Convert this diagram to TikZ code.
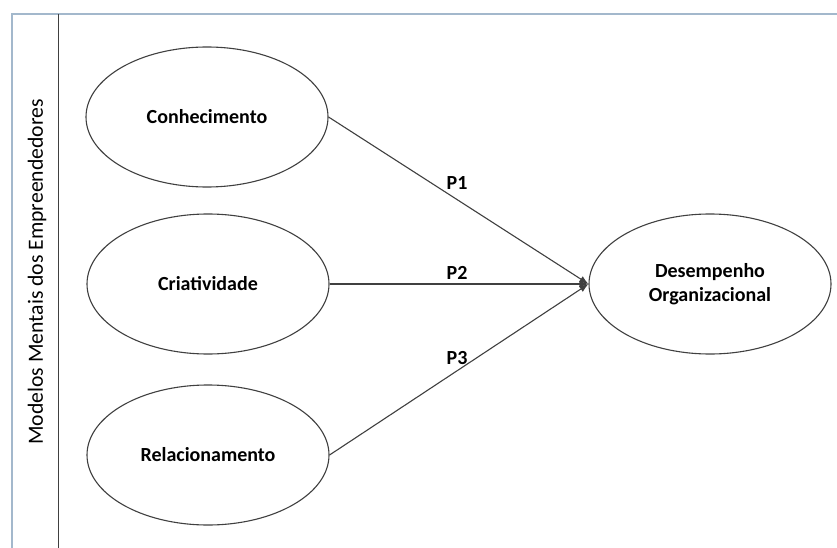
\documentclass[tikz,border=0pt]{standalone}
\usepackage{fontspec}
\setmainfont{Carlito}
\usetikzlibrary{shapes.geometric,arrows.meta}
\definecolor{framecol}{HTML}{A3B8CC}
\definecolor{linecol}{HTML}{404040}
\tikzset{
  construct/.style={ellipse, draw=linecol, line width=1.1pt, minimum width=242pt, minimum height=140pt, inner sep=0pt, font=\fontsize{20}{24}\selectfont\bfseries, align=center},
  path/.style={draw=linecol, line width=1.1pt, -{Latex[length=9pt,width=7pt]}},
  plabel/.style={font=\fontsize{20}{24}\selectfont\bfseries, inner sep=0pt}
}
\begin{document}
\begin{tikzpicture}[x=1pt,y=-1pt]
\useasboundingbox (0,0) rectangle (837,548);
\fill[white] (0,0) rectangle (837,548);
% frame
\draw[framecol, line width=2pt] (11.5,548) -- (11.5,14) -- (837,14);
\draw[linecol, line width=1.6pt] (58.5,14) -- (58.5,548);
\node[rotate=90, font=\fontsize{21.7}{24}\selectfont, inner sep=0pt] (title) at (37,272) {Modelos Mentais dos Empreendedores};
% constructs
\node[construct] (con) at (207,117) {Conhecimento};
\node[construct] (cri) at (208,284) {Criatividade};
\node[construct] (rel) at (208,455) {Relacionamento};
\node[construct] (des) at (710,284) {Desempenho\\Organizacional};
% paths
\draw[path] (con.east) -- (des.west);
\draw[path] (cri.east) -- (des.west);
\draw[path] (rel.east) -- (des.west);
\node[plabel] (p1) at (457,183) {P1};
\node[plabel] (p2) at (457,273) {P2};
\node[plabel] (p3) at (457,358) {P3};
\end{tikzpicture}
\end{document}
